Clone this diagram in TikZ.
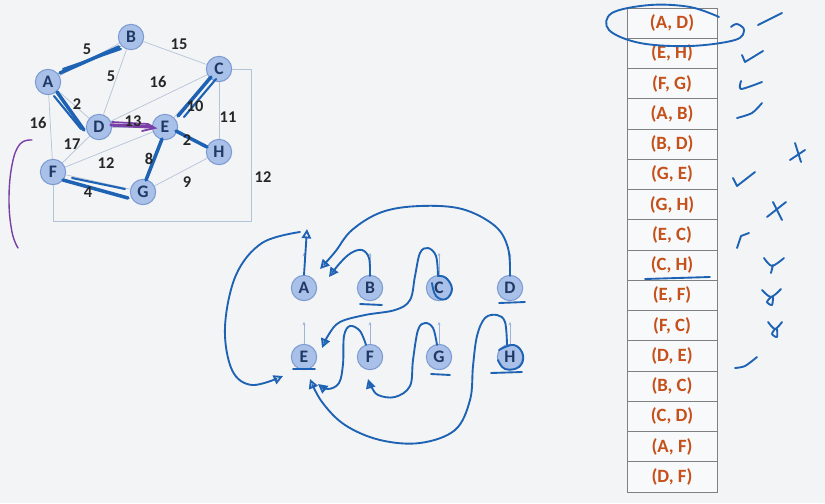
\documentclass[tikz,border=0pt]{standalone}
\usepackage{fontspec}
\setmainfont{Carlito}
\usetikzlibrary{arrows.meta}
\definecolor{bg}{HTML}{F3F4F5}
\definecolor{nodefill}{HTML}{A9C1E9}
\definecolor{nodeedge}{HTML}{7D9BD3}
\definecolor{nodetext}{HTML}{1F3864}
\definecolor{edgecol}{HTML}{B4C4D8}
\definecolor{ink}{HTML}{1E62B4}
\definecolor{purp}{HTML}{7B3FA8}
\definecolor{parrcol}{HTML}{9DB3D8}
\definecolor{cellline}{HTML}{808080}
\definecolor{cellfill}{HTML}{F8F9FA}
\definecolor{celltext}{HTML}{C5501A}
\begin{document}
\begin{tikzpicture}[x=0.03cm,y=-0.03cm]
\tikzset{
 gnode/.style={circle, fill=nodefill, draw=nodeedge, line width=0.9pt, minimum size=0.76cm, inner sep=0pt, font=\fontsize{15}{15}\selectfont\bfseries, text=nodetext},
 gedge/.style={draw=edgecol, line width=0.6pt},
 wlab/.style={font=\fontsize{14}{14}\selectfont\bfseries, text=black!85, inner sep=1pt},
 hl/.style={draw=ink, line width=3pt, line cap=round},
 hand/.style={draw=ink, line width=1.6pt, line cap=round, line join=round},
 handarr/.style={hand, -{Triangle[open,length=8pt,width=8pt]}},
 parr/.style={draw=parrcol, line width=0.6pt, -{Stealth[length=3pt,width=2.5pt]}},
 cell/.style={rectangle, draw=cellline, line width=0.8pt, fill=cellfill, minimum width=2.7cm, minimum height=0.9075cm, inner sep=0pt, font=\fontsize{16}{16}\selectfont\bfseries, text=celltext},
}
\fill[bg] (0,0) rectangle (825,503);
\useasboundingbox (0,0) rectangle (825,503);

% ---------- graph ----------
\coordinate (r1) at (251,69);
\coordinate (r2) at (251,221);
\coordinate (r3) at (53,221);
\path (131,37) node[gnode] (B) {B}
      (48,82) node[gnode] (A) {A}
      (219,69) node[gnode] (C) {C}
      (99,127) node[gnode] (D) {D}
      (165,127) node[gnode] (E) {E}
      (219,152) node[gnode] (H) {H}
      (53,172) node[gnode] (F) {F}
      (143,192) node[gnode] (G) {G};
\draw[gedge] (A) -- (B);
\draw[gedge] (B) -- (C);
\draw[gedge] (B) -- (D);
\draw[gedge] (A) -- (D);
\draw[gedge] (C) -- (D);
\draw[gedge] (A) -- (F);
\draw[gedge] (D) -- (F);
\draw[gedge] (D) -- (E);
\draw[gedge] (F) -- (E);
\draw[gedge] (C) -- (E);
\draw[gedge] (C) -- (H);
\draw[gedge] (E) -- (H);
\draw[gedge] (E) -- (G);
\draw[gedge] (G) -- (H);
\draw[gedge] (F) -- (G);
\draw[gedge] (C) -- (r1) -- (r2) -- (r3) -- (F);
% highlights
\draw[hl] (60,73) -- (119,47);
\draw[hl, line width=1.8pt] (63,69) -- (121,49);
\draw[hl] (57,92) -- (84,130);
\draw[hl, line width=1.8pt] (54,96) -- (81,129);
\draw[hl] (211,77) -- (178,116);
\draw[hl, line width=1.8pt] (216,79) -- (184,117);
\draw[hl] (176,131) -- (207,147);
\draw[hl] (162,139) -- (146,180);
\draw[hl] (63,180) -- (128,198);
\draw[hl, line width=1.8pt] (72,178) -- (125,189);
\draw[draw=purp, line width=2.8pt, line cap=round] (111,125) -- (152,127);
\draw[draw=purp, line width=1.5pt, line cap=round] (112,122) -- (148,124) -- (155,128) -- (142,131);
% weights
\node[wlab] (w1) at (87,49) {5};
\node[wlab] (w2) at (179,44) {15};
\node[wlab] (w3) at (111,76) {5};
\node[wlab] (w4) at (158,82) {16};
\node[wlab] (w5) at (77,104) {2};
\node[wlab] (w6) at (38,123) {16};
\node[wlab] (w7) at (133,121) {13};
\node[wlab] (w8) at (195,106) {10};
\node[wlab] (w9) at (228,117) {11};
\node[wlab] (w10) at (72,144) {17};
\node[wlab] (w11) at (187,140) {2};
\node[wlab] (w12) at (106,163) {12};
\node[wlab] (w13) at (149,159) {8};
\node[wlab] (w14) at (187,182) {9};
\node[wlab] (w15) at (88,192) {4};
\node[wlab] (w16) at (263,177) {12};
% purple arc
\draw[draw=purp, line width=1.2pt, line cap=round] plot[smooth, tension=0.7] coordinates {(32,140) (20,144) (12,165) (9,200) (12,232) (18,248)};

% ---------- forest ----------
\path (304,288) node[gnode] (mA) {A}
      (370,288) node[gnode] (mB) {B}
      (439,288) node[gnode] (mC) {C}
      (510,288) node[gnode] (mD) {D}
      (304,357) node[gnode] (mE) {E}
      (370,357) node[gnode] (mF) {F}
      (439,357) node[gnode] (mG) {G}
      (510,357) node[gnode] (mH) {H};
\foreach \n in {mA,mB,mC,mD,mE,mF,mG,mH}{
  \draw[parr] (\n.north) -- ([yshift=0.66cm]\n.north);
}
% hand-drawn pointers
\draw[handarr] (mA.north) -- (307,229);
\draw[handarr] plot[smooth, tension=0.6] coordinates {(300,232) (262,243) (236,275) (225,327) (232,370) (252,385) (283,376)};
\draw[handarr] plot[smooth, tension=0.6] coordinates {(510,276) (508,248) (495,226) (462,209) (420,206) (382,212) (352,230) (335,252) (320,269)};
\draw[handarr] plot[smooth, tension=0.6] coordinates {(370,276) (369,258) (362,250) (351,253) (340,263) (329,277)};
\draw[handarr] plot[smooth, tension=0.6] coordinates {(438,276) (436,256) (428,248) (420,253) (415,276) (410,300) (395,310) (365,315) (340,322) (329,334) (322,348)};
\draw[handarr] plot[smooth, tension=0.6] coordinates {(366,345) (360,331) (350,326) (344,336) (343,364) (339,383) (328,389) (318,384)};
\draw[handarr] plot[smooth, tension=0.6] coordinates {(437,345) (433,328) (425,323) (418,330) (413,360) (410,386) (395,397) (378,395) (371,386) (368,379)};
\draw[handarr] plot[smooth, tension=0.6] coordinates {(507,345) (505,322) (497,315) (485,318) (477,336) (473,366) (470,400) (455,430) (420,443) (380,440) (345,425) (322,402) (310,379)};
% scribbles and underlines
\draw[hand] plot[smooth, tension=0.7] coordinates {(432,283) (436,296) (446,299) (452,289) (446,278) (438,276)};
\draw[hand] plot[smooth, tension=0.7] coordinates {(499,350) (514,345) (523,355) (519,367) (505,369) (498,360)};
\draw[hand] (360,304) -- (382,305);
\draw[hand] (499,303) -- (525,302);
\draw[hand] (431,374) -- (450,375);
\draw[hand] (491,373) -- (522,372);
\draw[hand] (293,369) -- (315,369);

% ---------- table ----------
\foreach \t [count=\i] in {{(A, D)},{(E, H)},{(F, G)},{(A, B)},{(B, D)},{(G, E)},{(G, H)},{(E, C)},{(C, H)},{(E, F)},{(F, C)},{(D, E)},{(B, C)},{(C, D)},{(A, F)},{(D, F)}}{
  \node[cell] (row\i) at (672,{8+30.25*(\i-0.5)}) {\t};
}
% annotations
\draw[hand] plot[smooth, tension=0.6] coordinates {(719,17) (690,7) (650,5) (612,13) (609,30) (640,43) (690,46) (735,40) (744,30) (737,24) (731,27)};
\draw[hand] (758,25) -- (782,13);
\draw[hand] (742,55) -- (745,62) -- (763,51);
\draw[hand] plot[smooth] coordinates {(741,81) (741,89) (762,82)};
\draw[hand] plot[smooth] coordinates {(737,118) (752,113) (762,103)};
\draw[hand] (790,160) -- (805,150);
\draw[hand] (795,143) -- (801,162);
\draw[hand] (733,178) -- (737,186) -- (755,172);
\draw[hand] (767,217) -- (786,202);
\draw[hand] (773,202) -- (782,220);
\draw[hand] (737,248) -- (741,236) -- (749,233);
\draw[hand] (645,279) -- (710,277);
\draw[hand] plot[smooth] coordinates {(764,258) (772,266) (784,258)};
\draw[hand] (773,265) -- (771,273);
\draw[hand] plot[smooth] coordinates {(762,290) (771,297) (781,289)};
\draw[hand] plot[smooth] coordinates {(771,297) (767,302) (772,305) (773,297)};
\draw[hand] plot[smooth] coordinates {(768,322) (775,329) (782,322)};
\draw[hand] plot[smooth] coordinates {(775,329) (772,334) (777,337) (777,329)};
\draw[hand] plot[smooth] coordinates {(735,368) (745,366) (757,357)};
\end{tikzpicture}
\end{document}
